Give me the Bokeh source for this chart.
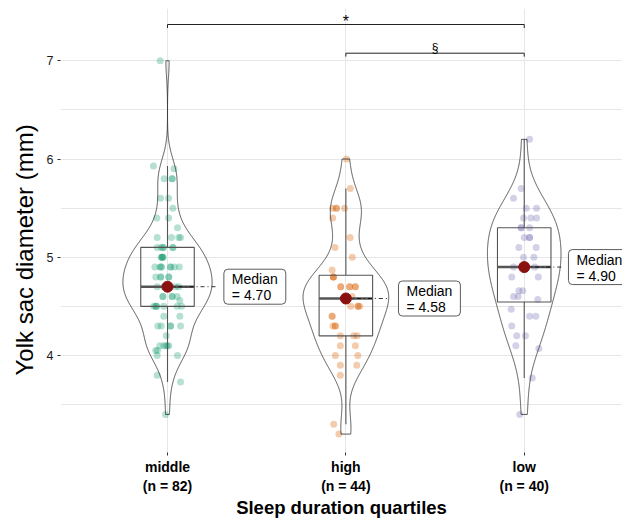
import numpy as np
from bokeh.plotting import figure
from bokeh.models import FixedTicker, Label, Title
from bokeh.embed import file_html
from bokeh.resources import INLINE
from bokeh.core.properties import value

# ---------------- data ----------------
categories = ["middle", "high", "low"]
group_colors = ["#1B9E77", "#D95F02", "#7570B3"]

middle_values = [7.00, 5.93, 5.90, 5.80, 5.80, 5.80, 5.60, 5.60, 5.50, 5.40, 5.40, 5.30,
                 5.20, 5.20, 5.20, 5.20, 5.10, 5.10, 5.10, 5.10, 5.10, 5.10,
                 5.00, 5.00, 5.00, 5.00, 5.00, 4.90, 4.90, 4.90, 4.90, 4.90, 4.90, 4.90, 4.90,
                 4.80, 4.80, 4.80, 4.80, 4.80, 4.70, 4.70, 4.70, 4.70, 4.70, 4.70, 4.70, 4.70, 4.70,
                 4.60, 4.60, 4.60, 4.60, 4.60, 4.56, 4.50, 4.50, 4.50, 4.50, 4.50, 4.50, 4.50,
                 4.40, 4.40, 4.30, 4.30, 4.30, 4.30, 4.30, 4.20, 4.10, 4.10, 4.10, 4.10, 4.10,
                 4.05, 4.05, 4.00, 4.00, 3.80, 3.73, 3.40]
middle_jitter = [-0.041, -0.079, 0.036, -0.019, 0.026, 0.026, -0.039, 0.006, 0.030, -0.060, 0.006, 0.056,
                 -0.058, 0.022, 0.063, 0.073, -0.058, -0.035, -0.024, 0.030, 0.030, -0.024,
                 -0.035, -0.026, -0.031, -0.031, -0.026, -0.071, -0.043, -0.035, 0.017, 0.038, 0.066, 0.017, -0.035,
                 -0.066, -0.038, 0.007, -0.038, 0.007, -0.058, -0.021, 0.045, 0.063, 0.000, -0.011, 0.000, 0.008, -0.006,
                 -0.026, 0.026, 0.054, 0.026, -0.026, 0.069, -0.067, -0.062, -0.077, -0.021, 0.054, 0.079, -0.062,
                 -0.021, 0.069, -0.054, -0.035, 0.017, 0.017, 0.073, -0.007, -0.007, 0.007, -0.043, -0.021, -0.002,
                 -0.066, -0.056, -0.058, 0.056, -0.058, 0.073, -0.011]

high_values = [6.00, 5.70, 5.50, 5.50, 5.50, 5.50, 5.40, 5.20, 5.10, 5.00, 4.87,
               4.80, 4.80, 4.80, 4.70, 4.70, 4.70, 4.70, 4.70, 4.70, 4.60, 4.60, 4.56,
               4.50, 4.50, 4.50, 4.50, 4.40, 4.40, 4.30, 4.30, 4.30, 4.20, 4.20, 4.20,
               4.10, 4.10, 4.00, 4.00, 3.90, 3.90, 3.80, 3.30, 3.20]
high_jitter = [0.004, 0.025, -0.074, -0.053, -0.007, -0.053, -0.074, 0.024, -0.061, 0.036, -0.077,
               -0.070, -0.070, -0.070, -0.029, 0.021, 0.053, 0.021, 0.053, -0.029, 0.035, 0.000, 0.005,
               0.027, 0.068, 0.077, 0.068, -0.077, -0.077, -0.072, -0.059, -0.059, -0.031, 0.044, 0.063,
               -0.031, 0.053, -0.059, 0.067, -0.031, 0.061, -0.031, -0.068, -0.039]

low_values = [6.20, 5.70, 5.60, 5.50, 5.50, 5.40, 5.40, 5.40, 5.30, 5.30, 5.30,
              5.20, 5.20, 5.20, 5.10, 5.10, 5.00, 5.00, 4.90, 4.90, 4.90, 4.90, 4.90,
              4.80, 4.80, 4.66, 4.66, 4.60, 4.60, 4.57, 4.47, 4.40, 4.40, 4.30,
              4.20, 4.20, 4.10, 4.07, 3.77, 3.40]
low_jitter = [0.030, -0.017, -0.060, 0.011, 0.069, -0.004, 0.037, 0.069, -0.017, -0.017, 0.030,
              0.000, 0.030, 0.030, -0.030, 0.067, -0.004, 0.054, -0.060, 0.059, 0.000, 0.006, -0.005,
              -0.070, 0.079, -0.030, -0.008, -0.060, -0.034, 0.076, -0.073, 0.030, 0.065, -0.070,
              -0.042, 0.007, -0.047, 0.082, 0.045, -0.025]

group_values = [middle_values, high_values, low_values]
group_jitter = [middle_jitter, high_jitter, low_jitter]

# significance comparisons (pairs of categories, label)
sig_pairs = [("middle", "low"), ("high", "low")]
sig_labels = ["*", "\u00a7"]

y_tick_values = [4, 5, 6, 7]
y_minor_values = [3.5, 4.5, 5.5, 6.5]

x_title = "Sleep duration quartiles"
y_title = "Yolk sac diameter (mm)"

FONT = "Liberation Sans"

# ---------------- statistics ----------------
def tukey_stats(vals):
    v = np.sort(np.asarray(vals, dtype=float))
    q1, med, q3 = np.quantile(v, [0.25, 0.5, 0.75])
    iqr = q3 - q1
    lo = v[v >= q1 - 1.5 * iqr - 1e-9].min()
    hi = v[v <= q3 + 1.5 * iqr + 1e-9].max()
    return q1, med, q3, lo, hi


def kde(vals, n_grid=512):
    v = np.asarray(vals, dtype=float)
    n = len(v)
    sd = v.std(ddof=1)
    iqr = np.subtract(*np.quantile(v, [0.75, 0.25]))
    bw = 0.9 * min(sd, iqr / 1.34) * n ** -0.2
    grid = np.linspace(v.min(), v.max(), n_grid)
    dens = np.exp(-0.5 * ((grid[:, None] - v[None, :]) / bw) ** 2).sum(axis=1) / (n * bw * np.sqrt(2 * np.pi))
    return grid, dens


centers = {c: i + 1 for i, c in enumerate(categories)}

# ---------------- figure ----------------
p = figure(width=622, height=520, x_range=(0.4, 3.551), y_range=(3.0125, 7.532),
           output_backend="svg", toolbar_location=None,
           min_border_left=60, min_border_right=0, min_border_top=8, min_border_bottom=68)
p.outline_line_color = None
p.background_fill_color = "white"
p.border_fill_color = "white"

# axes
p.xaxis.ticker = FixedTicker(ticks=[1, 2, 3])
p.xaxis.major_label_overrides = {i + 1: f"{c}\n(n = {len(v)})" for i, (c, v) in enumerate(zip(categories, group_values))}
p.xaxis.major_label_text_font = FONT
p.xaxis.major_label_text_font_style = "bold"
p.xaxis.major_label_text_font_size = "14px"
p.xaxis.major_label_text_color = "black"
p.xaxis.major_label_text_line_height = 1.2
p.xaxis.major_label_standoff = 3
p.xaxis.axis_line_color = None
p.xaxis.major_tick_in = 0
p.xaxis.major_tick_out = 3
p.xaxis.major_tick_line_color = "#333333"
p.xaxis.minor_tick_line_color = None
p.xaxis.axis_label = x_title
p.xaxis.axis_label_text_font = FONT
p.xaxis.axis_label_text_font_style = "bold"
p.xaxis.axis_label_text_font_size = "18.5px"
p.xaxis.axis_label_text_color = "black"
p.xaxis.axis_label_text_line_height = 1.0
p.xaxis.axis_label_standoff = 0

p.yaxis.ticker = FixedTicker(ticks=y_tick_values, minor_ticks=y_minor_values)
p.yaxis.major_label_text_font = FONT
p.yaxis.major_label_text_font_size = "12.5px"
p.yaxis.major_label_text_color = "#1A1A1A"
p.yaxis.major_label_standoff = 3
p.yaxis.axis_line_color = None
p.yaxis.major_tick_in = 0
p.yaxis.major_tick_out = 3
p.yaxis.major_tick_line_color = "#333333"
p.yaxis.minor_tick_line_color = None

ytitle = Title(text=y_title, align="left", offset=77,
               text_font=FONT, text_font_size="24px", text_font_style="normal",
               text_color="black", standoff=11)
p.add_layout(ytitle, "left")

# grid
grid_color = "#E6E6E6"
p.xgrid.grid_line_color = grid_color
p.ygrid.grid_line_color = grid_color
p.ygrid.minor_grid_line_color = grid_color

# ---------------- marks ----------------
densities = [kde(v) for v in group_values]
dmax = max(d.max() for _, d in densities)
violin_half = 0.25
box_half = 0.15

label_dx = [0.316, 0.295, 0.248]
leader_dx = [0.279, 0.239, 0.222]

for i, (cat, vals, jit, col) in enumerate(zip(categories, group_values, group_jitter, group_colors)):
    c = centers[cat]
    # jittered points
    p.scatter(x=[c + j for j in jit], y=vals, size=7, fill_color=col, fill_alpha=0.32, line_color=None)
    # box
    q1, med, q3, lo, hi = tukey_stats(vals)
    p.quad(left=[c - box_half], right=[c + box_half], bottom=[q1], top=[q3],
           fill_color=None, line_color="#555555", line_width=1.1)
    p.segment(x0=[c, c], y0=[lo, q3], x1=[c, c], y1=[q1, hi], line_color="#555555", line_width=1.1)
    p.segment(x0=[c - box_half], y0=[med], x1=[c + box_half], y1=[med], line_color="#555555", line_width=2.4)
    # violin
    grid, dens = densities[i]
    hw = violin_half * dens / dmax
    xs = np.concatenate([c + hw, (c - hw)[::-1]])
    ys = np.concatenate([grid, grid[::-1]])
    p.patch(xs, ys, fill_color=None, line_color="#222222", line_width=0.75)

for i, (cat, vals) in enumerate(zip(categories, group_values)):
    c = centers[cat]
    q1, med, q3, lo, hi = tukey_stats(vals)
    p.segment(x0=[c], y0=[med], x1=[c + leader_dx[i]], y1=[med],
              line_color="black", line_width=0.8, line_dash="4 3 1 3")
    p.scatter(x=[c], y=[med], size=11, fill_color="#8B1010", line_color="#8B1010")
    lab = Label(x=c + label_dx[i], y=med, text=f"Median\n= {med:.2f}",
                text_font=FONT, text_font_size="14px", text_color="black",
                text_align="left", text_baseline="middle", text_line_height=1.0,
                background_fill_color="white", border_line_color="#333333", border_line_width=0.8,
                border_radius=4, padding=dict(left=8, right=8, top=2, bottom=1))
    p.add_layout(lab)

# significance brackets
bracket_y = [7.369, 7.077]
text_y = [7.395, 7.129]
text_size = ["16px", "12px"]
for (a, b), lab, by, ty, ts in zip(sig_pairs, sig_labels, bracket_y, text_y, text_size):
    xa, xb = centers[a], centers[b]
    p.line(x=[xa, xa, xb, xb], y=[by - 0.035, by, by, by - 0.035], line_color="#222222", line_width=1)
    p.text(x=[(xa + xb) / 2], y=[ty], text=[lab], text_font=value(FONT), text_font_size=ts,
           text_align="center", text_baseline="alphabetic", text_color="black")

open("out.html", "w").write(file_html(p, INLINE))
